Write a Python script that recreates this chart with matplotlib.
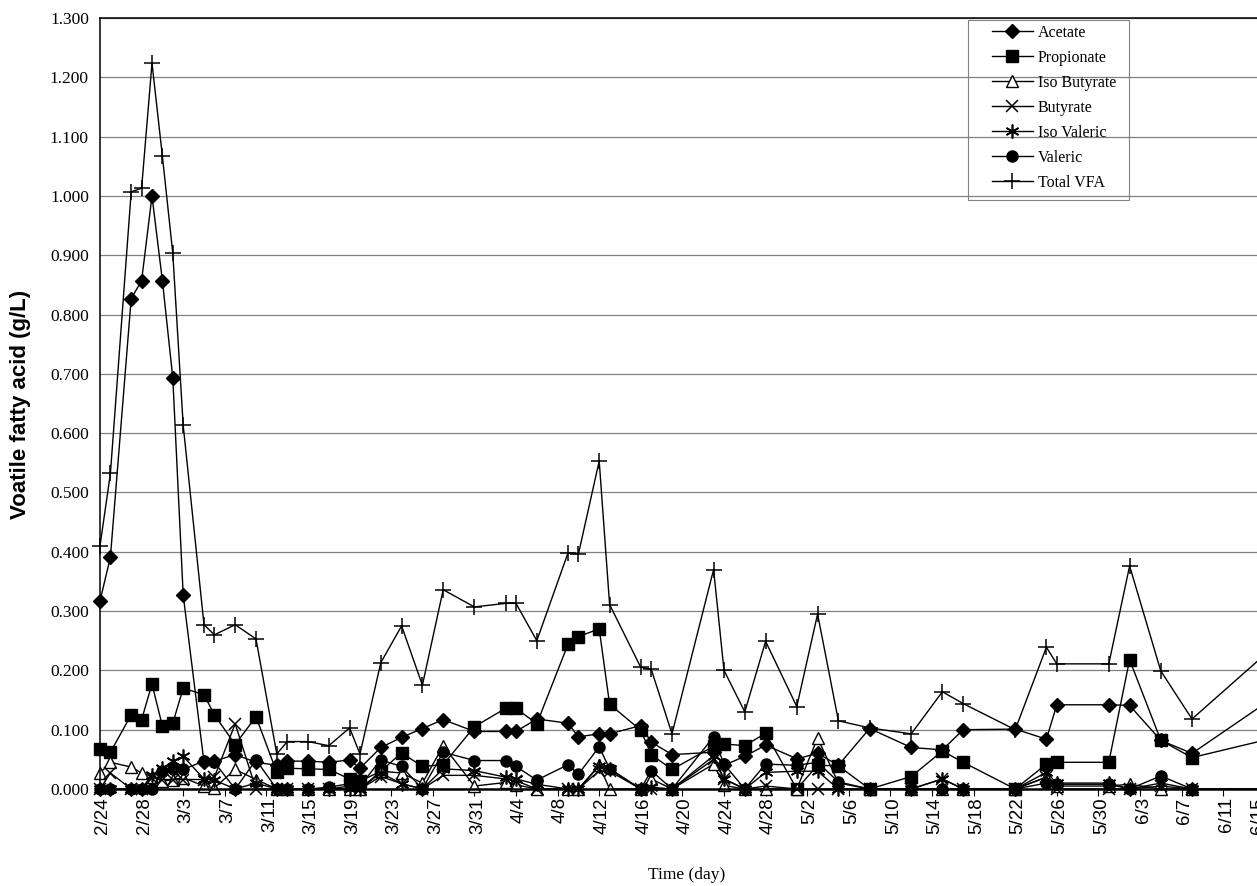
import datetime as dt
import matplotlib.pyplot as plt
import matplotlib.transforms as mtransforms
from matplotlib.lines import Line2D
from matplotlib.patches import Rectangle

# sampling dates (year 2000, leap year)
sample_dates = ['2/24', '2/25', '2/27', '2/28', '2/29', '3/1', '3/2', '3/3',
                '3/5', '3/6', '3/8', '3/10', '3/12', '3/13', '3/15', '3/17',
                '3/19', '3/20', '3/22', '3/24', '3/26', '3/28', '3/31', '4/3',
                '4/4', '4/6', '4/9', '4/10', '4/12', '4/13', '4/16', '4/17',
                '4/19', '4/23', '4/24', '4/26', '4/28', '5/1', '5/3', '5/5',
                '5/8', '5/12', '5/15', '5/17', '5/22', '5/25', '5/26', '5/31',
                '6/2', '6/5', '6/8', '6/18']

acetate = [0.317, 0.391, 0.827, 0.857, 1.000, 0.857, 0.693, 0.327,
           0.045, 0.047, 0.058, 0.045, 0.040, 0.047, 0.047, 0.045,
           0.049, 0.035, 0.070, 0.087, 0.102, 0.117, 0.097, 0.097,
           0.097, 0.118, 0.111, 0.088, 0.093, 0.093, 0.107, 0.079,
           0.058, 0.062, 0.040, 0.055, 0.074, 0.051, 0.060, 0.040,
           0.102, 0.070, 0.066, 0.100, 0.101, 0.084, 0.142, 0.142,
           0.141, 0.082, 0.060, 0.180]

propionate = [0.068, 0.062, 0.125, 0.117, 0.177, 0.106, 0.111, 0.170,
              0.159, 0.125, 0.075, 0.122, 0.028, 0.035, 0.034, 0.033,
              0.017, 0.013, 0.030, 0.061, 0.038, 0.041, 0.105, 0.136,
              0.136, 0.110, 0.244, 0.257, 0.270, 0.143, 0.099, 0.058,
              0.033, 0.072, 0.076, 0.073, 0.094, 0.000, 0.040, 0.039,
              0.000, 0.021, 0.064, 0.045, 0.000, 0.042, 0.045, 0.045,
              0.218, 0.082, 0.053, 0.095]

iso_butyrate = [0.027, 0.045, 0.037, 0.027, 0.021, 0.013, 0.016, 0.019,
                0.005, 0.002, 0.033, 0.016, 0.0, 0.0, 0.0, 0.0,
                0.0, 0.0, 0.030, 0.027, 0.010, 0.073, 0.005, 0.011,
                0.007, 0.0, 0.0, 0.0, 0.040, 0.0, 0.0, 0.017,
                0.0, 0.042, 0.006, 0.0, 0.0, 0.0, 0.086, 0.010,
                0.0, 0.0, 0.0, 0.0, 0.0, 0.020, 0.005, 0.005,
                0.008, 0.0, 0.0, 0.0]

butyrate = [0.0, 0.027, 0.0, 0.0, 0.019, 0.016, 0.016, 0.016,
            0.016, 0.020, 0.110, 0.0, 0.0, 0.0, 0.0, 0.0,
            0.005, 0.0, 0.021, 0.009, 0.0, 0.023, 0.023, 0.017,
            0.014, 0.0, 0.0, 0.0, 0.031, 0.030, 0.0, 0.0,
            0.0, 0.050, 0.017, 0.0, 0.005, 0.0, 0.0, 0.0,
            0.0, 0.0, 0.017, 0.0, 0.0, 0.020, 0.0, 0.0,
            0.0, 0.005, 0.0, 0.0]

iso_valeric = [0.0, 0.0, 0.0, 0.0, 0.024, 0.035, 0.047, 0.055,
               0.017, 0.015, 0.0, 0.010, 0.0, 0.0, 0.0, 0.0,
               0.0, 0.0, 0.027, 0.009, 0.0, 0.034, 0.031, 0.020,
               0.017, 0.008, 0.0, 0.0, 0.039, 0.034, 0.0, 0.003,
               0.0, 0.056, 0.017, 0.0, 0.028, 0.030, 0.030, 0.0,
               0.0, 0.0, 0.017, 0.0, 0.0, 0.028, 0.010, 0.010,
               0.0, 0.010, 0.0, 0.0]

valeric = [0.0, 0.0, 0.0, 0.0, 0.0, 0.030, 0.033, 0.033,
           0.047, 0.045, 0.0, 0.049, 0.0, 0.0, 0.0, 0.003,
           0.009, 0.005, 0.049, 0.038, 0.0, 0.062, 0.048, 0.048,
           0.038, 0.015, 0.041, 0.025, 0.071, 0.034, 0.0, 0.031,
           0.0, 0.088, 0.042, 0.0, 0.042, 0.040, 0.045, 0.012,
           0.0, 0.0, 0.0, 0.0, 0.0, 0.010, 0.008, 0.008,
           0.0, 0.022, 0.0, 0.0]

total_vfa = [0.410, 0.532, 1.007, 1.013, 1.224, 1.067, 0.903, 0.613,
             0.277, 0.260, 0.277, 0.253, 0.059, 0.080, 0.080, 0.073,
             0.103, 0.059, 0.213, 0.275, 0.175, 0.336, 0.307, 0.313,
             0.313, 0.250, 0.398, 0.396, 0.553, 0.311, 0.205, 0.202,
             0.093, 0.370, 0.200, 0.130, 0.249, 0.139, 0.295, 0.115,
             0.103, 0.093, 0.164, 0.144, 0.100, 0.239, 0.211, 0.211,
             0.376, 0.199, 0.118, 0.273]

tick_dates = ['2/24', '2/28', '3/3', '3/7', '3/11', '3/15', '3/19', '3/23',
              '3/27', '3/31', '4/4', '4/8', '4/12', '4/16', '4/20', '4/24',
              '4/28', '5/2', '5/6', '5/10', '5/14', '5/18', '5/22', '5/26',
              '5/30', '6/3', '6/7', '6/11', '6/15']

y_ticks = [0.0, 0.1, 0.2, 0.3, 0.4, 0.5, 0.6, 0.7, 0.8, 0.9, 1.0, 1.1, 1.2, 1.3]


def to_day(s):
    """Days since 2/24/2000"""
    m, d = map(int, s.split('/'))
    return (dt.date(2000, m, d) - dt.date(2000, 2, 24)).days


x = [to_day(s) for s in sample_dates]

W, H = 1257, 886
fig = plt.figure(figsize=(W / 100, H / 100), dpi=100)

# the axes runs past the right edge of the figure, as in the cropped original
px_per_day = 10.4
x_max = 116
left, top, bottom = 100, 18, 789
ax = fig.add_axes([left / W, 1 - bottom / H, x_max * px_per_day / W, (bottom - top) / H])

serif = 'Liberation Serif'
sans = 'Liberation Sans'

styles = [
    (acetate, 'Acetate', dict(marker='D', ms=7, mfc='black')),
    (propionate, 'Propionate', dict(marker='s', ms=8.5, mfc='black')),
    (iso_butyrate, 'Iso Butyrate', dict(marker='^', ms=8, mfc='white')),
    (butyrate, 'Butyrate', dict(marker='x', ms=8.5, mew=1.1)),
    (iso_valeric, 'Iso Valeric', dict(marker=(6, 2, 0), ms=10, mew=1.2)),
    (valeric, 'Valeric', dict(marker='o', ms=8, mfc='black')),
    (total_vfa, 'Total VFA', dict(marker='+', ms=12, mew=1.1)),
]

for values, label, kw in styles:
    ax.plot(x, values, color='black', lw=1.0, mec='black', label=label,
            clip_on=False, **kw)

ax.set_xlim(0, x_max)
ax.set_ylim(0, 1.3)

ax.set_yticks(y_ticks)
ax.set_yticklabels([f'{v:.3f}' for v in y_ticks], fontfamily=serif, fontsize=12.5)
ax.set_xticks([to_day(s) for s in tick_dates])
ax.set_xticklabels(tick_dates, rotation=90, fontfamily=sans, fontsize=13.5)
ax.tick_params(axis='y', length=0, pad=8)
ax.tick_params(axis='x', length=5, direction='out', pad=1)

# labels sit a little right of their ticks; the last one is pulled back inside
ticklabels = ax.get_xticklabels()
for lab in ticklabels[:-1]:
    lab.set_transform(lab.get_transform() + mtransforms.ScaledTranslation(3 / 100, 0, fig.dpi_scale_trans))
ticklabels[-1].set_transform(ticklabels[-1].get_transform()
                             + mtransforms.ScaledTranslation(-6 / 100, 0, fig.dpi_scale_trans))

ax.yaxis.grid(True, color='0.5', lw=0.9)
ax.set_axisbelow(True)
for side in ['left', 'top']:
    ax.spines[side].set_linewidth(1.1)
ax.spines['bottom'].set_linewidth(1.8)

fig.text(21 / W, 1 - 404 / H, 'Voatile fatty acid (g/L)', rotation=90,
         ha='center', va='center', fontfamily=sans, fontweight='bold', fontsize=16)
fig.text(687 / W, 1 - 875 / H, 'Time (day)', ha='center', va='center',
         fontfamily=serif, fontsize=12.5)

# legend in a plain box at the upper right
handles = [Line2D([], [], color='black', lw=1.0, mec='black', **kw) for _, _, kw in styles]
labels = [lab for _, lab, _ in styles]
ax.legend(handles, labels, loc='upper left', bbox_to_anchor=(992 / W, 1 - 25 / H),
          bbox_transform=fig.transFigure, borderaxespad=0, borderpad=0, frameon=False,
          prop={'family': serif, 'size': 11.5},
          handlelength=2.56, handletextpad=0.3, labelspacing=0.56)
fig.patches.append(Rectangle((968 / W, 1 - 200 / H), 161 / W, 180 / H,
                             transform=fig.transFigure, fill=False,
                             edgecolor='0.5', lw=0.8, zorder=5))

fig.savefig('out.png', dpi=100)
